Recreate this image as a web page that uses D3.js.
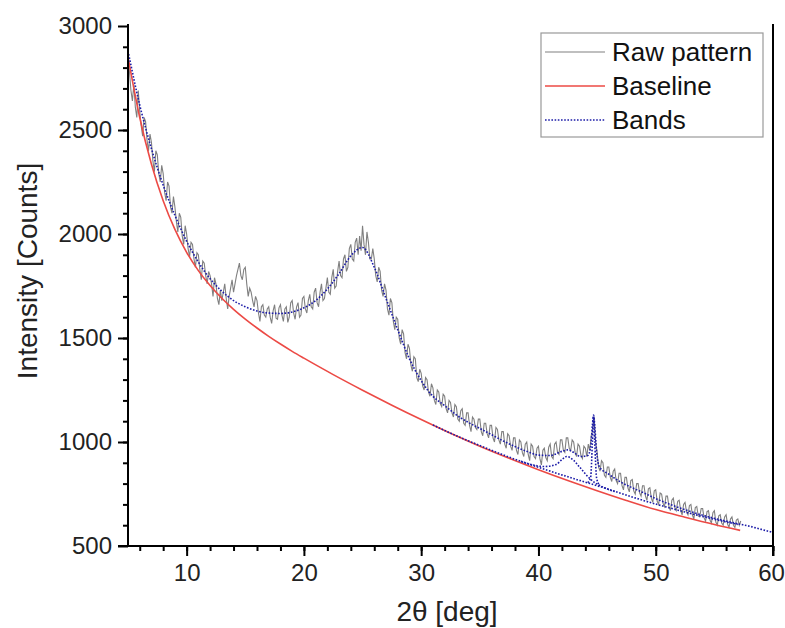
<!DOCTYPE html>
<html>
<head>
<meta charset="utf-8">
<script src="https://cdn.jsdelivr.net/npm/d3@7"></script>
<style>
  body { margin: 0; background: #fff; }
  svg { font-family: "Liberation Sans", Arial, sans-serif; }
</style>
</head>
<body>
<svg id="chart" width="785" height="628"></svg>
<script>
// raw pattern, sampled every 0.125 deg from 5 (one row per degree)
var rawStart = 5, rawStep = 0.125;
var rawCounts = [
  2850, 2780, 2690, 2640, 2720, 2610, 2560, 2690,
  2590, 2520, 2470, 2560, 2540, 2450, 2400, 2480,
  2440, 2350, 2300, 2400, 2380, 2290, 2250, 2330,
  2290, 2200, 2160, 2250, 2230, 2130, 2100, 2180,
  2130, 2060, 2010, 2100, 2080, 1990, 1950, 2040,
  2000, 1930, 1890, 1960, 1950, 1880, 1840, 1910,
  1900, 1830, 1780, 1870, 1860, 1800, 1760, 1820,
  1800, 1760, 1700, 1790, 1760, 1690, 1660, 1730,
  1680, 1720, 1760, 1690, 1640, 1700, 1740, 1780,
  1720, 1760, 1800, 1830, 1860, 1800, 1780, 1830,
  1840, 1760, 1700, 1740, 1720, 1680, 1650, 1700,
  1680, 1620, 1580, 1650, 1660, 1610, 1600, 1640,
  1650, 1600, 1570, 1630, 1660, 1595, 1590, 1645,
  1660, 1610, 1580, 1640, 1650, 1575, 1600, 1670,
  1680, 1620, 1590, 1650, 1670, 1600, 1610, 1690,
  1700, 1640, 1620, 1680, 1710, 1650, 1640, 1720,
  1740, 1670, 1650, 1720, 1760, 1680, 1690, 1740,
  1790, 1720, 1710, 1790, 1830, 1740, 1750, 1820,
  1870, 1800, 1790, 1880, 1900, 1820, 1840, 1930,
  1950, 1880, 1870, 1960, 1980, 1900, 1990, 1920,
  2040, 1950, 1900, 2010, 1960, 1880, 1880, 1930,
  1880, 1800, 1770, 1840, 1820, 1730, 1700, 1760,
  1730, 1640, 1610, 1690, 1670, 1580, 1540, 1600,
  1590, 1500, 1470, 1540, 1520, 1430, 1400, 1470,
  1450, 1370, 1340, 1410, 1400, 1310, 1290, 1350,
  1330, 1270, 1250, 1310, 1300, 1240, 1220, 1280,
  1260, 1200, 1180, 1250, 1240, 1185, 1170, 1230,
  1220, 1160, 1140, 1200, 1190, 1140, 1120, 1180,
  1170, 1110, 1100, 1150, 1160, 1090, 1080, 1140,
  1140, 1080, 1050, 1120, 1110, 1070, 1060, 1110,
  1110, 1050, 1030, 1090, 1090, 1040, 1020, 1080,
  1080, 1020, 1000, 1070, 1060, 1010, 990, 1050,
  1050, 990, 970, 1040, 1030, 980, 960, 1020,
  1020, 960, 940, 1010, 1000, 950, 930, 990,
  1000, 940, 910, 990, 980, 930, 920, 970,
  980, 920, 890, 960, 970, 925, 910, 975,
  990, 930, 920, 990, 1000, 950, 940, 1010,
  1010, 960, 950, 1020, 1020, 970, 960, 1010,
  1000, 950, 930, 990, 980, 935, 920, 980,
  970, 930, 990, 960, 1030, 1060, 1120, 1000,
  950, 880, 860, 910, 900, 840, 830, 880,
  880, 830, 810, 860, 870, 815, 800, 850,
  850, 790, 770, 830, 830, 780, 760, 815,
  820, 765, 750, 800, 800, 755, 740, 790,
  790, 740, 720, 775, 780, 730, 710, 765,
  770, 715, 700, 755, 750, 705, 690, 740,
  740, 690, 670, 720, 730, 685, 670, 715,
  720, 670, 650, 700, 710, 665, 650, 695,
  700, 650, 630, 685, 690, 645, 640, 680,
  680, 635, 620, 665, 670, 625, 610, 660,
  670, 615, 600, 645, 650, 610, 600, 640,
  650, 605, 590, 630, 640, 600, 590, 625,
  630, 600, 620
];

var baseX = [5, 6, 7, 8, 9, 10, 11, 12, 13, 14, 15, 16, 17, 18, 19, 20, 22.5, 25, 27.5, 30, 32.5, 35, 37.5, 40, 42.5, 45, 47.5, 50, 52.5, 55, 57.2];
var baseY = [2850, 2560, 2335, 2160, 2022, 1912, 1824, 1752, 1691, 1638, 1591, 1548, 1508, 1471, 1436, 1403, 1324, 1249, 1177, 1108, 1042, 980, 922, 867, 815, 766, 719, 675, 638, 603, 575];

// total fit of the bands
var fitX = [5, 6, 7, 8, 9, 10, 11, 12, 13, 14, 15, 16, 17, 18, 19, 20, 21, 22, 23, 24, 25, 26, 27, 28, 29, 30, 31, 32, 33, 34, 35, 36, 37, 38, 39, 40, 41, 42, 42.5, 43, 43.6, 44.2, 44.45, 44.6, 44.7, 44.8, 44.95, 45.2, 46, 47, 48, 49, 50, 51, 52, 53, 54, 55, 56, 57, 58, 59, 60];
var fitY = [2880, 2620, 2410, 2235, 2090, 1965, 1865, 1785, 1725, 1680, 1650, 1630, 1620, 1618, 1625, 1645, 1680, 1735, 1810, 1895, 1935, 1840, 1690, 1540, 1400, 1295, 1220, 1175, 1130, 1095, 1065, 1035, 1005, 978, 955, 937, 935, 955, 962, 950, 930, 935, 975, 1080, 1130, 1080, 960, 880, 845, 808, 780, 755, 728, 705, 684, 665, 648, 633, 620, 607, 595, 580, 565];

// individual bands (drawn on top of the baseline)
var bandAX = [31, 33, 35, 37, 39, 41, 43, 45, 47, 49, 51, 53, 55, 57];
var bandAY = [1082, 1030, 983, 938, 897, 860, 824, 790, 754, 718, 686, 656, 628, 604];
var bandBX = [38.5, 39.5, 40.5, 41.5, 42, 42.4, 43, 43.5, 44.5, 45.5, 46.5];
var bandBY = [908, 890, 882, 892, 915, 930, 912, 880, 818, 783, 762];
var bandCX = [44.2, 44.45, 44.6, 44.7, 44.8, 44.95, 45.2];
var bandCY = [805, 830, 1000, 1125, 1000, 830, 792];

var xTicks = [10, 20, 30, 40, 50, 60];
var yTicks = [500, 1000, 1500, 2000, 2500, 3000];
var legendItems = ['Raw pattern', 'Baseline', 'Bands'];

var mLeft = 128, mRight = 773, mTop = 26, mBottom = 546;
var svg = d3.select('#chart');

var x = d3.scaleLinear().domain([5, 60]).range([mLeft, mRight]);
var y = d3.scaleLinear().domain([500, 3000]).range([mBottom, mTop]);

var zip = function(xs, ys) {
  return xs.map(function(v, i) { return [v, ys[i]]; });
};
var rawPts = rawCounts.map(function(v, i) { return [rawStart + i * rawStep, v]; });

var lineLin = d3.line().x(function(d) { return x(d[0]); }).y(function(d) { return y(d[1]); });
var lineSmooth = d3.line().curve(d3.curveMonotoneX)
  .x(function(d) { return x(d[0]); }).y(function(d) { return y(d[1]); });

var plot = svg.append('g');

plot.append('path')
  .attr('d', lineLin(rawPts))
  .attr('fill', 'none')
  .attr('stroke', '#808080')
  .attr('stroke-width', 1.1);

plot.append('path')
  .attr('d', lineSmooth(zip(baseX, baseY)))
  .attr('fill', 'none')
  .attr('stroke', '#ec4a45')
  .attr('stroke-width', 1.6);

var blue = '#1c1ca8';
[[bandAX, bandAY], [bandBX, bandBY], [bandCX, bandCY], [fitX, fitY]].forEach(function(s) {
  plot.append('path')
    .attr('d', lineSmooth(zip(s[0], s[1])))
    .attr('fill', 'none')
    .attr('stroke', blue)
    .attr('stroke-width', 1.6)
    .attr('stroke-dasharray', '1.6,1.6');
});

// axes
var xAxis = d3.axisBottom(x).tickValues(d3.range(6, 61, 2)).tickSize(5).tickFormat('');
svg.append('g').attr('transform', 'translate(0,' + mBottom + ')').call(xAxis);
var xAxisMajor = d3.axisBottom(x).tickValues(xTicks).tickSize(10).tickPadding(8)
  .tickFormat(d3.format('d'));
var xg = svg.append('g').attr('transform', 'translate(0,' + mBottom + ')').call(xAxisMajor);
xg.selectAll('.tick text').filter(function(d) { return d === 60; }).attr('dx', -2);

var yAxis = d3.axisLeft(y).tickValues(d3.range(600, 3000, 100)).tickSize(5).tickFormat('');
svg.append('g').attr('transform', 'translate(' + mLeft + ',0)').call(yAxis);
var yAxisMajor = d3.axisLeft(y).tickValues(yTicks).tickSize(10).tickPadding(6)
  .tickFormat(d3.format('d'));
svg.append('g').attr('transform', 'translate(' + mLeft + ',0)').call(yAxisMajor);

svg.selectAll('.domain').remove();
svg.selectAll('.tick line').attr('stroke', '#000').attr('stroke-width', 2);
svg.selectAll('.tick text').attr('font-size', 24).attr('fill', '#222')
  .attr('font-family', '"Liberation Sans", Arial, sans-serif');

svg.append('line').attr('x1', mLeft - 10).attr('x2', mRight + 1)
  .attr('y1', mBottom).attr('y2', mBottom).attr('stroke', '#000').attr('stroke-width', 2);
svg.append('line').attr('x1', mLeft).attr('x2', mLeft)
  .attr('y1', mTop - 2).attr('y2', mBottom + 1).attr('stroke', '#000').attr('stroke-width', 2);
svg.append('line').attr('x1', mRight).attr('x2', mRight)
  .attr('y1', mTop - 2).attr('y2', mBottom + 10).attr('stroke', '#000').attr('stroke-width', 2);

// titles
svg.append('text')
  .attr('x', 447).attr('y', 621)
  .attr('text-anchor', 'middle')
  .attr('font-size', 28).attr('fill', '#222')
  .text('2θ [deg]');
svg.append('text')
  .attr('transform', 'translate(37,' + 271 + ') rotate(-90)')
  .attr('text-anchor', 'middle')
  .attr('font-size', 28).attr('fill', '#222')
  .text('Intensity [Counts]');

// legend
var lg = svg.append('g');
lg.append('rect')
  .attr('x', 541).attr('y', 33).attr('width', 222).attr('height', 104)
  .attr('fill', '#fff').attr('stroke', '#999').attr('stroke-width', 1.2);
var rowY = [52, 86, 120];
var sampleStyle = [
  {c: '#808080', dash: null, w: 1.1},
  {c: '#ec4a45', dash: null, w: 1.6},
  {c: blue, dash: '1.6,1.6', w: 1.6}
];
legendItems.forEach(function(name, i) {
  var l = lg.append('line')
    .attr('x1', 545).attr('x2', 605)
    .attr('y1', rowY[i]).attr('y2', rowY[i])
    .attr('stroke', sampleStyle[i].c)
    .attr('stroke-width', sampleStyle[i].w);
  if (sampleStyle[i].dash) l.attr('stroke-dasharray', sampleStyle[i].dash);
  lg.append('text')
    .attr('x', 612).attr('y', rowY[i])
    .attr('dy', '0.35em')
    .attr('font-size', 26).attr('fill', '#111')
    .text(name);
});
</script>
</body>
</html>
